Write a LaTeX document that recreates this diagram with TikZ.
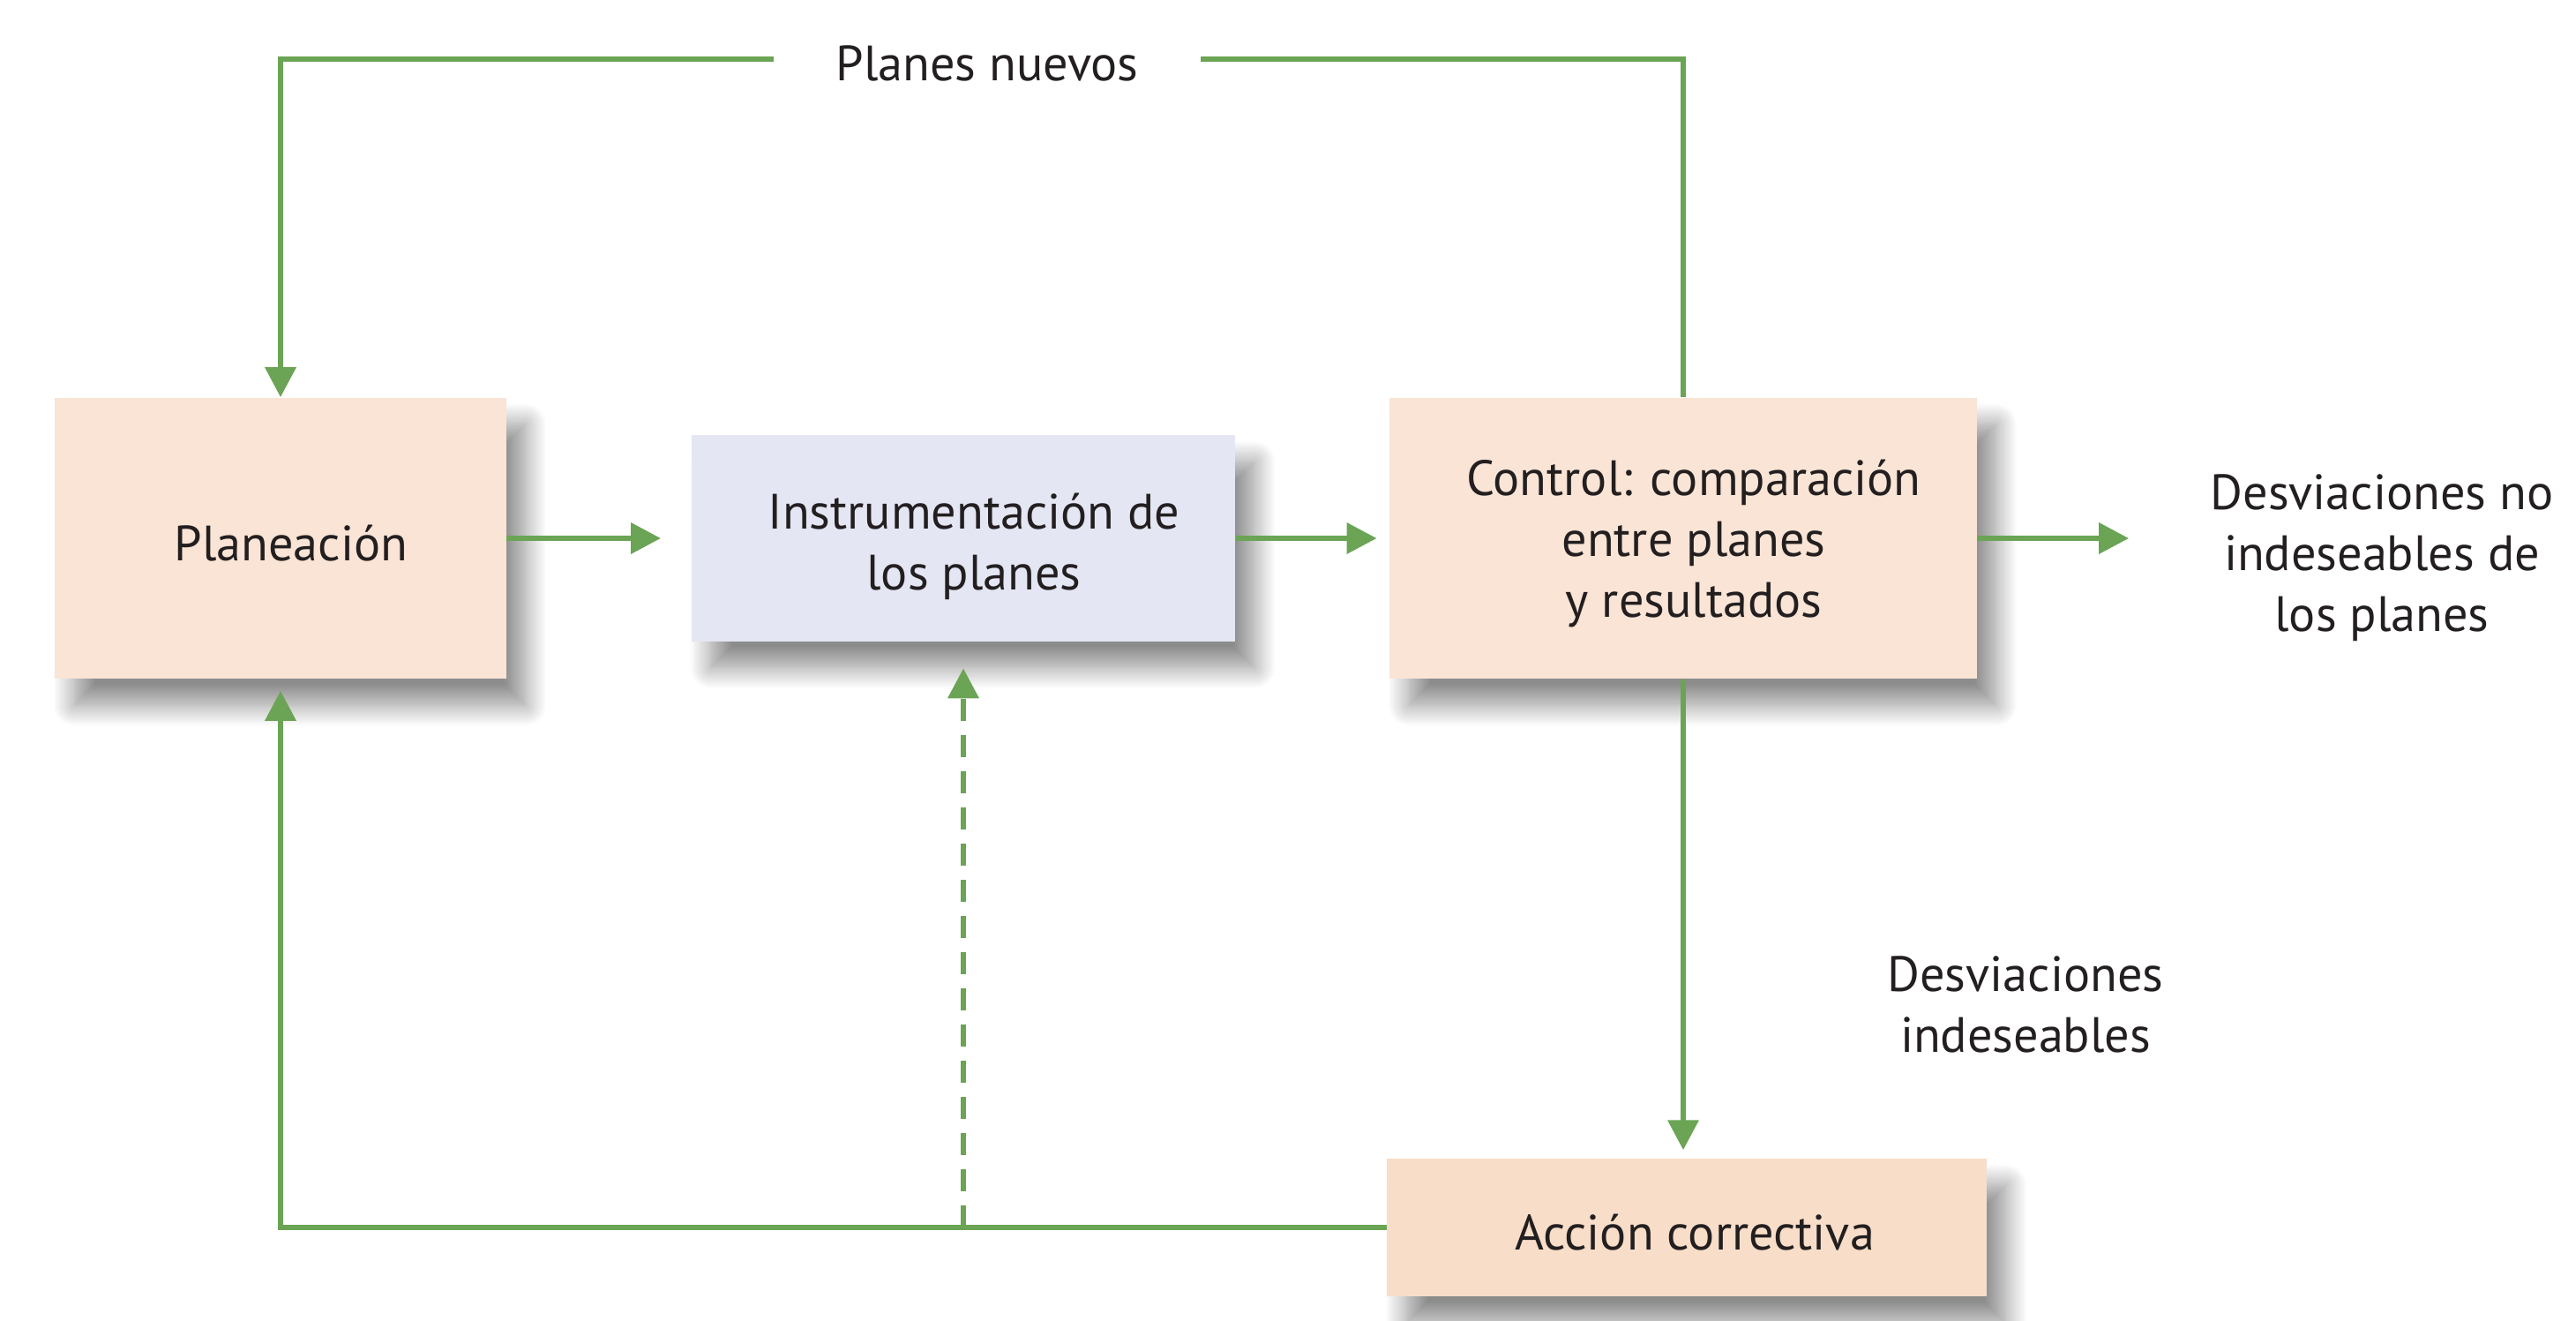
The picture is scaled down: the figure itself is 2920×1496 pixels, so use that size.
\documentclass[tikz,border=0pt]{standalone}
\usepackage{fontspec}
\setmainfont{PT Sans}
\usepackage{tikz}
\usetikzlibrary{arrows.meta,shadows.blur}

\definecolor{verde}{RGB}{106,164,84}
\definecolor{durazno}{RGB}{249,228,213}
\definecolor{duraznob}{RGB}{248,221,200}
\definecolor{lila}{RGB}{228,230,243}
\definecolor{tinta}{RGB}{35,31,32}

\tikzset{
  caja/.style={fill=durazno, inner sep=0pt,
    blur shadow={shadow xshift=0.22cm, shadow yshift=-0.3cm,
      shadow blur radius=0.24cm, shadow blur steps=20, shadow opacity=45}},
  texto/.style={align=center, xshift=0.12cm, yshift=-0.06cm},
  linea/.style={draw=verde, line width=1.9pt},
  flecha/.style={linea, -{Triangle[width=0.34cm,length=0.34cm]}}
}

\begin{document}
\begin{tikzpicture}[x=0.01cm, y=-0.01cm, text=tinta,
    font=\fontsize{16pt}{19.6pt}\selectfont]
      \useasboundingbox (0,0) rectangle (2920,1496);

      \node[caja, minimum width=5.11cm, minimum height=3.18cm,
        label={[texto]center:Planeación}] (plan) at (318,610) {};
      \node[caja, fill=lila, minimum width=6.16cm, minimum height=2.33cm,
        label={[texto, yshift=-0.03cm]center:Instrumentación de\\los planes}] (instr) at (1092,610) {};
      \node[caja, minimum width=6.65cm, minimum height=3.18cm,
        label={[texto]center:Control: comparación\\entre planes\\y resultados}] (ctrl) at (1908,610) {};
      \node[caja, fill=duraznob, minimum width=6.79cm, minimum height=1.56cm,
        label={[texto, xshift=-0.03cm]center:Acción correctiva}] (accion) at (1912,1391) {};
      \node[align=center] (desvno) at (2700,632) {Desviaciones no\\indeseables de\\los planes};
      \node[align=center] (desv) at (2296,1138) {Desviaciones\\indeseables};
      \node[inner xsep=0.7cm] (nuevos) at (1119,72) {Planes nuevos};
      \coordinate (junta) at (instr.south |- accion.west);

      \draw[flecha] (nuevos.west |- 0,67) -| (plan.north);
      \draw[linea] (ctrl.north) |- (nuevos.east |- 0,67);
      \draw[flecha, shorten >=0.34cm] (plan) -- (instr);
      \draw[flecha, shorten >=0.14cm] (instr) -- (ctrl);
      \draw[flecha, shorten >=0.8cm] (ctrl) -- (ctrl.east -| desvno.west);
      \draw[flecha, shorten >=0.09cm] (ctrl) -- (ctrl.south |- accion.north);
      \draw[flecha, shorten >=0.13cm] (accion.west) -| (plan.south);
      \draw[flecha, dash pattern=on 0.25cm off 0.16cm, shorten >=0.3cm] (junta) -- (instr.south);
    \end{tikzpicture}
\end{document}
